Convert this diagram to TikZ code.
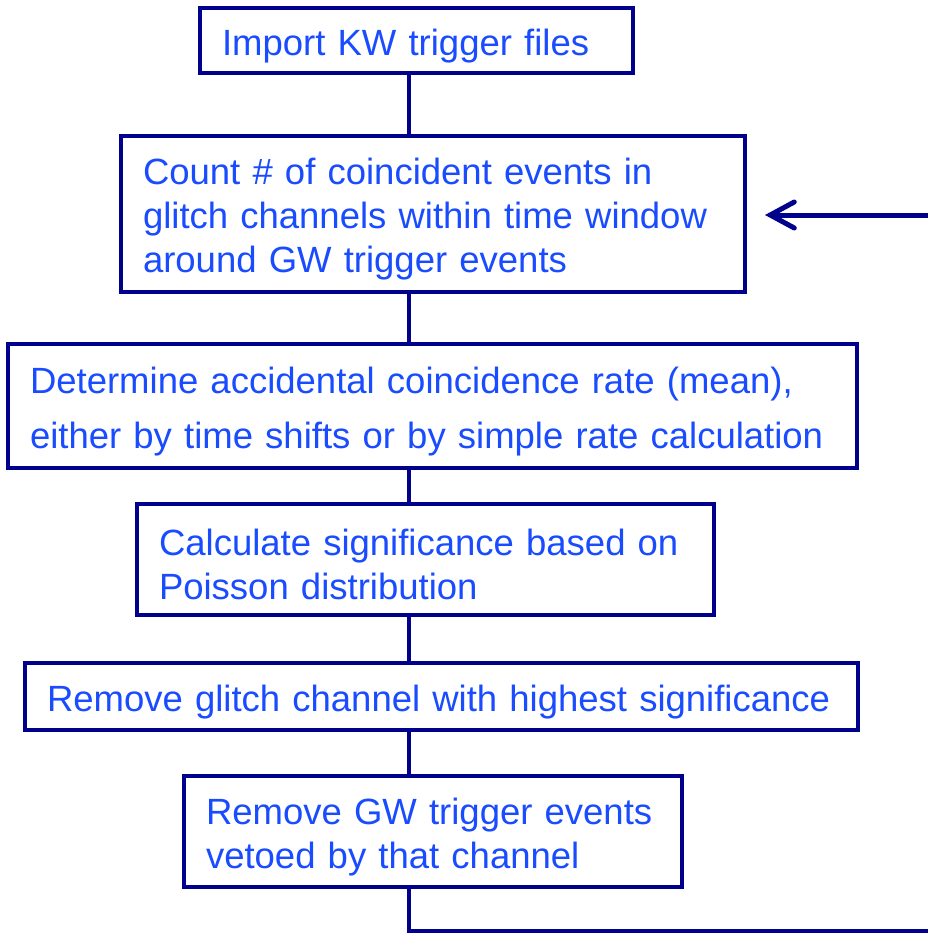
\documentclass[tikz,border=0pt]{standalone}
\usepackage{fontspec}
\setmainfont{Liberation Sans}
\usetikzlibrary{arrows.meta}
\definecolor{navy}{RGB}{0,0,140}
\definecolor{tblue}{RGB}{25,75,255}
\begin{document}
\begin{tikzpicture}[x=1pt,y=-1pt,
  box/.style={draw=navy, line width=4pt, fill=white, inner xsep=22pt, inner ysep=0pt,
    align=left, text=tblue, font=\fontsize{36.5}{44}\selectfont,
    execute at begin node={\rule{0pt}{37pt}}},
  conn/.style={draw=navy, line width=4pt}]
\useasboundingbox (0,0) rectangle (928,934);
\node[box, text width=389pt, minimum height=65pt] (b1) at (416.5,40.5) {Import KW trigger files};
\node[box, text width=580pt, minimum height=156pt] (b2) at (433,214) {Count \# of coincident events in\\glitch channels within time window\\around GW trigger events};
\node[box, text width=805pt, minimum height=124pt, font=\fontsize{36.5}{55}\selectfont] (b3) at (432.5,406) {Determine accidental coincidence rate (mean),\\either by time shifts or by simple rate calculation};
\node[box, text width=533pt, minimum height=111pt] (b4) at (425.5,559.5) {Calculate significance based on\\Poisson distribution};
\node[box, text width=789pt, minimum height=67pt] (b5) at (441.5,696.5) {\mbox{Remove glitch channel with highest significance}};
\node[box, text width=454pt, minimum height=111pt] (b6) at (433,831.5) {Remove GW trigger events\\vetoed by that channel};
\coordinate (spine) at (409,0);
\draw[conn] (b1.south -| spine) -- (b2.north -| spine);
\draw[conn] (b2.south -| spine) -- (b3.north -| spine);
\draw[conn] (b3.south -| spine) -- (b4.north -| spine);
\draw[conn] (b4.south -| spine) -- (b5.north -| spine);
\draw[conn] (b5.south -| spine) -- (b6.north -| spine);
\coordinate (loopend) at (930,931);
\draw[conn] (b6.south -| spine) |- (loopend);
\coordinate (fb) at (930,215);
\coordinate (tip) at (765,215);
\draw[conn, line width=5pt, -{Straight Barb[length=24pt, width=26pt, line cap=round]}] (fb) -- (tip);
\end{tikzpicture}
\end{document}
